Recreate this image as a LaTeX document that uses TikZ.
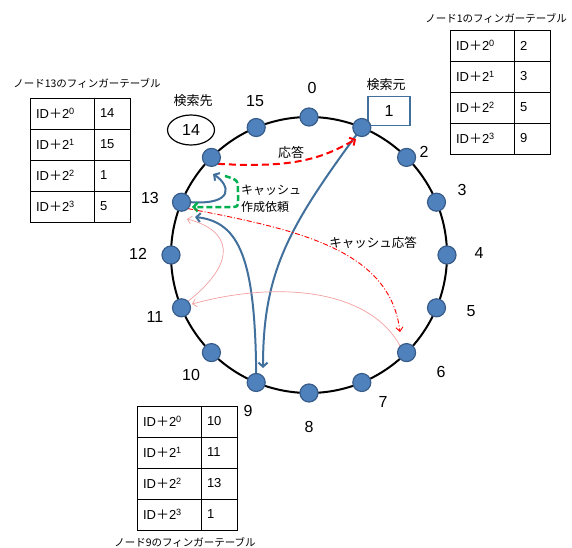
\documentclass[tikz,border=0pt]{standalone}
\usepackage{fontspec}
\setmainfont{Liberation Sans}
\newfontfamily\cjk{Noto Sans CJK JP}
\usetikzlibrary{positioning,arrows.meta,shapes.geometric}

\definecolor{dotfill}{HTML}{4F81BD}
\definecolor{dotline}{HTML}{385D8A}
\definecolor{pathblue}{HTML}{41709C}
\definecolor{cachegreen}{HTML}{00B050}
\definecolor{lightred}{HTML}{F4A0A0}

\tikzset{
  ringnode/.style={circle, fill=dotfill, draw=dotline, line width=1.2pt, minimum size=18pt, inner sep=0pt},
  numlabel/.style={font=\fontsize{16}{18}\selectfont, inner sep=0pt},
  jlabel/.style={font=\cjk\fontsize{12.5}{15}\selectfont, inner sep=0pt},
  keycell/.style={draw, line width=0.8pt, anchor=north west, minimum height=31pt, text width=52pt,
    inner xsep=6pt, inner ysep=0pt, outer sep=0pt, align=left, font=\fontsize{13}{15}\selectfont},
  valcell/.style={keycell, text width=24pt},
  tabtitle/.style={font=\cjk\fontsize{10.5}{12}\selectfont, inner sep=0pt},
  query/.style={draw=pathblue, line width=2pt, -{Straight Barb[length=4pt,width=9pt]}},
  answer/.style={draw=red, line width=2pt, dash pattern=on 7pt off 4pt, -{Straight Barb[length=4pt,width=9pt]}},
  cachereq/.style={draw=cachegreen, line width=2.5pt, dash pattern=on 6pt off 3pt, -{Straight Barb[length=4pt,width=9pt]}},
  cacheans/.style={draw=red, line width=0.9pt, dash pattern=on 5pt off 2pt on 1pt off 2pt, -{Straight Barb[length=4pt,width=7pt]}},
  lookup/.style={draw=lightred, line width=0.7pt, -{Straight Barb[length=4pt,width=8pt]}}
}

% finger table: prefix, left, top, values
\newcommand{\fingertable}[4]{%
  \foreach \v [count=\i from 0] in {#4} {
    \node[keycell] (#1k\i) at (#2, #3-\i*31) {ID{\cjk ＋}2\textsuperscript{\i}};
    \node[valcell, right=0pt of #1k\i] (#1v\i) {\v};
  }
}

\begin{document}
\begin{tikzpicture}[x=1pt, y=1pt]
    \useasboundingbox[fill=white] (0,0) rectangle (572,547);

    \coordinate (c) at (309,292);
    \draw[line width=2pt] (c) circle[radius=138pt];

    % nodes on the ring
    \foreach \k in {0,...,15}
        \path (c) ++(90-22.5*\k:138) coordinate (p\k);

    \node[draw=pathblue, line width=1.2pt, minimum width=42pt, minimum height=29pt, inner sep=0pt,
          font=\fontsize{16}{18}\selectfont] (src) at (389,436) {1};
    \node[jlabel, font=\cjk\fontsize{13}{15}\selectfont] (srctext) at (386,462) {検索元};
    \node[ellipse, draw, line width=1.2pt, minimum width=47pt, minimum height=30pt, inner sep=0pt,
          font=\fontsize{16}{18}\selectfont] (dst) at (191,417) {14};
    \node[jlabel, font=\cjk\fontsize{13}{15}\selectfont] (dsttext) at (193,446) {検索先};

    \foreach \k/\lx/\ly in {0/312/459, 2/424/395, 3/462/357, 4/479/294, 5/471/236, 6/441/175,
                            7/383/145, 8/309/120, 9/248/136, 10/191/172, 11/155/230, 12/138/293,
                            13/150/349, 15/255/446}
        \node[numlabel] (l\k) at (\lx,\ly) {\k};

    % arrow ends
    \coordinate (tip9) at (263,179);
    \coordinate (tip13a) at (195,330);
    \coordinate (tip14) at (213,373);
    \coordinate (green0) at (225,371);
    \coordinate (tip13g) at (192,340);
    \coordinate (tip1) at (356,408);
    \coordinate (tip6) at (400,215);
    \coordinate (tip11) at (192,243);
    \coordinate (tip13p) at (187,328);

    \draw[query] (p1) .. controls (290,322) and (263,277) .. (tip9);
    \draw[query] (p9) ++(0,9) .. controls (255,287) and (240,325) .. (tip13a);
    \draw[query] (p13) ++(9,0) .. controls (235,342) and (230,362) .. (tip14);
    \draw[cachereq] (green0) .. controls (238,367) .. (238,355) -- (238,347)
        .. controls (238,340) .. (230,340) -- (tip13g);
    \draw[answer] (p14) ++(6.4,-6.4) .. controls (290,379) and (320,387) .. (tip1);
    \draw[cacheans] (p13) ++(6.4,-6.4) .. controls (300,317) and (390,297) .. (tip6);
    \draw[lookup] (p6) ++(-6.4,6.4) .. controls (370,257) and (280,267) .. (tip11);
    \draw[lookup] (p11) ++(6.4,6.4) .. controls (240,287) and (230,317) .. (tip13p);

    \foreach \k in {0,...,15}
        \node[ringnode] (n\k) at (p\k) {};

    \node[jlabel, font=\cjk\fontsize{13}{15}\selectfont] (anslabel) at (291,395) {応答};
    \node[jlabel, font=\cjk\fontsize{12}{17}\selectfont, align=left, anchor=west] (reqlabel) at (241,348) {キャッシュ\\作成依頼};
    \node[jlabel] (cachelabel) at (373,304) {キャッシュ応答};

    % finger tables
    \fingertable{a}{450}{517}{2,3,5,9}
    \node[tabtitle] (atitle) at (496,529) {ノード1のフィンガーテーブル};
    \fingertable{m}{30}{449}{14,15,1,5}
    \node[tabtitle] (mtitle) at (87,464) {ノード13のフィンガーテーブル};
    \fingertable{n}{137}{141}{10,11,13,1}
    \node[tabtitle] (ntitle) at (185,5) {ノード9のフィンガーテーブル};
\end{tikzpicture}
\end{document}
